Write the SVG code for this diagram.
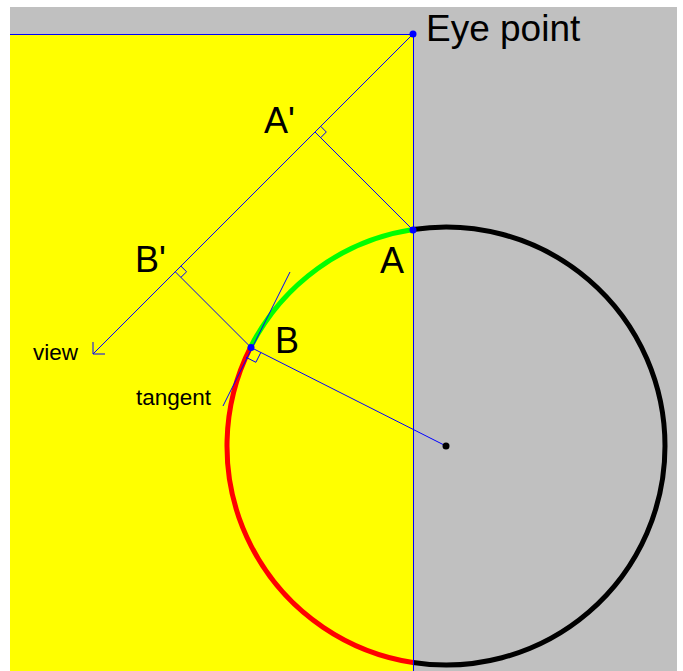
<svg xmlns="http://www.w3.org/2000/svg" width="683" height="671" viewBox="0 0 683 671">
<style>
.ln{stroke:#0000ff;stroke-width:1;fill:none}
.mk{stroke:#0000ff;stroke-width:1;fill:none}
.arc{fill:none;stroke-width:5}
.big{font-family:"Liberation Sans",Arial,sans-serif;font-size:36px;fill:#000}
.small{font-family:"Liberation Sans",Arial,sans-serif;font-size:22.5px;fill:#000}
.pt{fill:#0000ff}
</style>
<rect x="0" y="0" width="683" height="671" fill="#ffffff"/>
<rect x="10" y="7" width="667" height="664" fill="#c0c0c0"/>
<rect x="10" y="34" width="403" height="637" fill="#ffff00"/>
<g id="circle">
<path class="arc" stroke="#00ff00" d="M413 229.5 A219 219 0 0 0 250.5 347.3"/>
<path class="arc" stroke="#ff0000" d="M250.5 347.3 A219 219 0 0 0 413 662.5"/>
<path class="arc" stroke="#000000" d="M413 662.5 A219 219 0 1 0 413 229.5"/>
</g>
<g id="connectors">
<line class="ln" x1="10" y1="34.5" x2="413" y2="34.5"/>
<line class="ln" x1="413.5" y1="34" x2="413.5" y2="671"/>
<line class="ln" x1="413" y1="34" x2="93" y2="354"/>
<polyline class="ln" points="93,342 93,354 105,354"/>
<line class="ln" x1="315" y1="132" x2="413" y2="230"/>
<line class="ln" x1="175.25" y1="271.75" x2="251" y2="347.5"/>
<line class="ln" x1="251" y1="347.5" x2="446" y2="446"/>
<line class="ln" x1="290" y1="272" x2="223" y2="406"/>
<polyline class="mk" points="320.7,126.3 326.3,132 320.7,137.7"/>
<polyline class="mk" points="180.9,266.1 186.6,271.75 180.9,277.4"/>
<polyline class="mk" points="246,357.3 255.9,362.3 260.8,352.5"/>
</g>
<g id="eye-point"><circle class="pt" cx="413" cy="34" r="3.5"/><text class="big" x="426" y="41" style="font-size:37px">Eye point</text></g>
<g id="A-prime"><text class="big" x="264" y="133">A'</text></g>
<g id="B-prime"><text class="big" x="135" y="272">B'</text></g>
<g id="A"><circle class="pt" cx="413" cy="230" r="3.5"/><text class="big" x="380" y="273">A</text></g>
<g id="B"><circle class="pt" cx="251" cy="347.5" r="3.5"/><text class="big" x="275" y="353">B</text></g>
<g id="center"><circle cx="446" cy="446" r="3.5" fill="#000"/></g>
<g id="view"><text class="small" x="33" y="360">view</text></g>
<g id="tangent"><text class="small" x="136" y="405">tangent</text></g>
</svg>
